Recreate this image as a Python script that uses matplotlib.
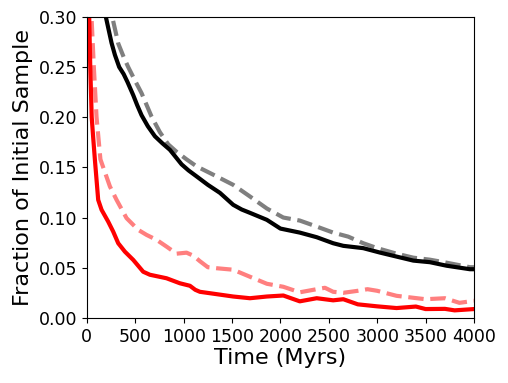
import matplotlib
matplotlib.use("Agg")
import matplotlib.pyplot as plt
import numpy as np

# Black solid
black_t = [150, 196, 230, 255, 290, 334, 380, 420, 479, 520, 565, 630, 703, 780, 858, 979, 1050,
           1134, 1250, 1375, 1512, 1600, 1685, 1860, 2000, 2200, 2375, 2545, 2650, 2856, 3028,
           3200, 3373, 3545, 3717, 3958, 4000]
black_f = [0.34, 0.30, 0.285, 0.274, 0.262, 0.25, 0.243, 0.235, 0.222, 0.212, 0.202, 0.191, 0.181,
           0.174, 0.1675, 0.153, 0.147, 0.141, 0.1326, 0.1246, 0.1127, 0.108, 0.1047, 0.0977,
           0.089, 0.085, 0.0804, 0.0744, 0.0718, 0.0695, 0.0651, 0.0611, 0.0571, 0.0555, 0.052,
           0.0485, 0.0485]

# Gray dashed
gray_t = [220, 262, 324, 380, 427, 500, 565, 668, 755, 840, 927, 1030, 1134, 1300, 1512, 1685,
          1860, 2030, 2200, 2375, 2545, 2700, 2856, 3000, 3200, 3373, 3545, 3717, 3958, 4000]
gray_f = [0.34, 0.30, 0.2735, 0.26, 0.25, 0.236, 0.224, 0.2007, 0.185, 0.173, 0.1655, 0.158,
          0.151, 0.143, 0.1326, 0.121, 0.109, 0.100, 0.097, 0.091, 0.085, 0.081, 0.0744, 0.0695,
          0.064, 0.060, 0.058, 0.055, 0.0505, 0.0505]

# Red solid
red_t = [0, 24, 35, 50, 65, 83, 117, 152, 220, 272, 324, 393, 479, 582, 651, 823, 961, 1065,
         1120, 1168, 1271, 1512, 1685, 1860, 2030, 2200, 2375, 2545, 2650, 2800, 3000, 3200,
         3400, 3500, 3700, 3800, 4000]
red_f = [0.40, 0.30, 0.25, 0.20, 0.18, 0.1575, 0.1176, 0.1077, 0.096, 0.086, 0.0744, 0.066, 0.0578,
         0.046, 0.043, 0.0395, 0.0345, 0.032, 0.028, 0.026, 0.0246, 0.0213, 0.0196, 0.0213,
         0.0223, 0.0165, 0.0196, 0.0175, 0.0186, 0.0135, 0.0115, 0.0098, 0.0113, 0.0088, 0.0090,
         0.0075, 0.0088]

# Light red dashed
lred_t = [0, 48, 72, 100, 140, 238, 307, 410, 531, 617, 720, 824, 927, 1030, 1100, 1168, 1250,
          1340, 1512, 1685, 1860, 2030, 2200, 2375, 2460, 2545, 2650, 2800, 2900, 3000, 3200, 3500,
          3700, 3850, 4000]
lred_f = [0.45, 0.30, 0.25, 0.20, 0.158, 0.131, 0.1176, 0.0994, 0.0877, 0.0827, 0.0778, 0.071,
          0.0640, 0.065, 0.062, 0.0565, 0.0505, 0.0495, 0.048, 0.041, 0.034, 0.031, 0.0255, 0.0286,
          0.030, 0.026, 0.025, 0.027, 0.0286, 0.027, 0.022, 0.0186, 0.0196, 0.0150, 0.017]

x_ticks = [0, 500, 1000, 1500, 2000, 2500, 3000, 3500, 4000]
y_ticks = [0.00, 0.05, 0.10, 0.15, 0.20, 0.25, 0.30]

fig = plt.figure(figsize=(5.08, 3.83), dpi=100)
ax = fig.add_axes([0.171, 0.170, 0.762, 0.786])

ax.plot(gray_t, gray_f, color='k', alpha=0.5, lw=3, ls='--')
ax.plot(black_t, black_f, color='k', lw=3)
ax.plot(lred_t, lred_f, color='r', alpha=0.5, lw=3, ls='--')
ax.plot(red_t, red_f, color='r', lw=3)

ax.set_xlim(0, 4000)
ax.set_ylim(0, 0.30)
ax.set_xticks(x_ticks)
ax.set_yticks(y_ticks)
ax.set_yticklabels([f"{v:.2f}" for v in y_ticks])
ax.tick_params(labelsize=12.5)
ax.set_xlabel("Time (Myrs)", fontsize=16, labelpad=2)
ax.set_ylabel("Fraction of Initial Sample", fontsize=16, labelpad=4)

fig.savefig("out.png", dpi=100)
